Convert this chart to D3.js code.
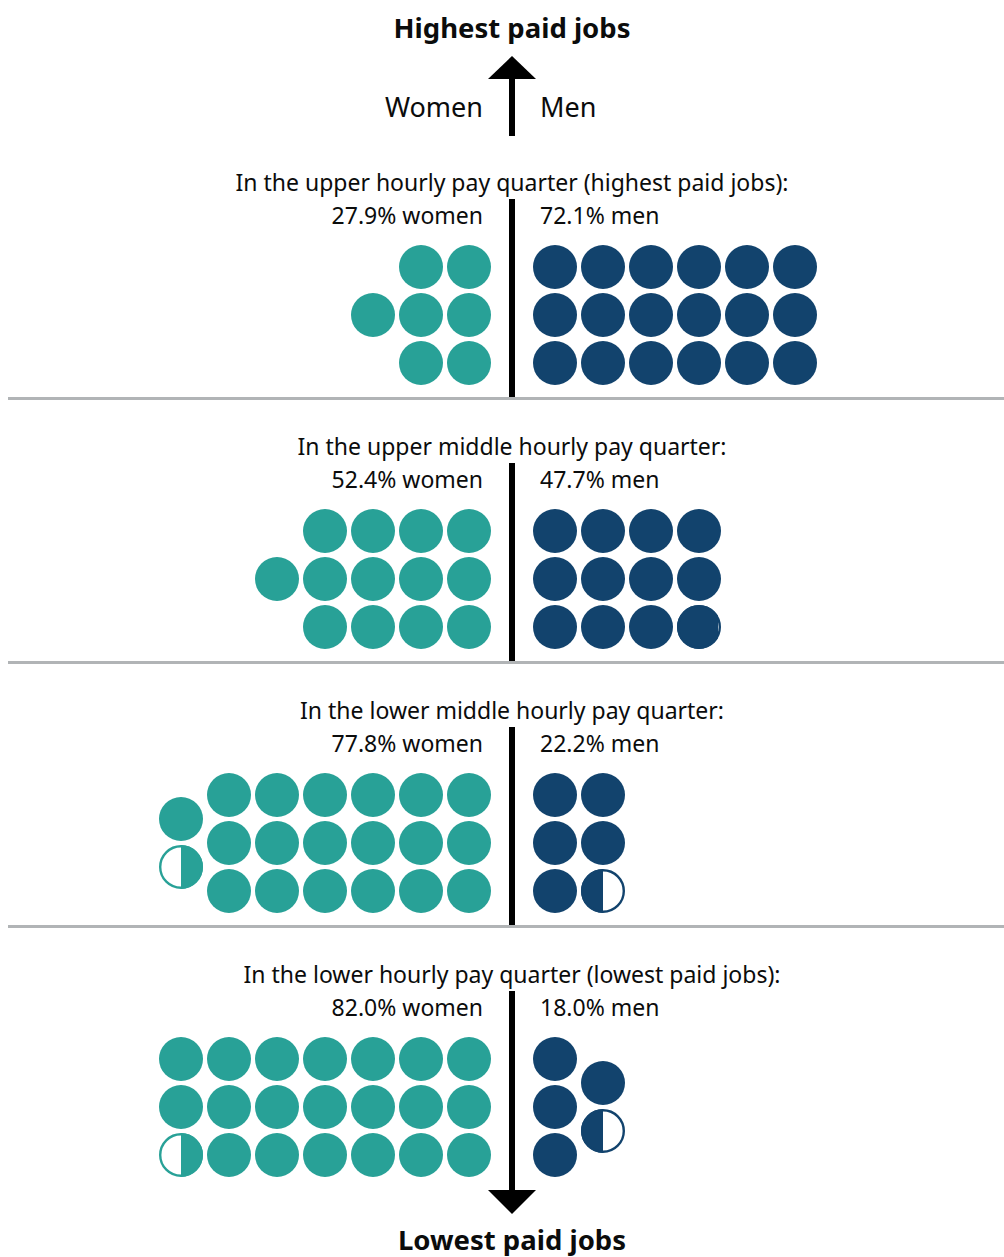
<!DOCTYPE html>
<html>
<head>
<meta charset="utf-8">
<script src="https://cdn.jsdelivr.net/npm/d3@7.9.0/dist/d3.min.js"></script>
<style>
  body { margin: 0; background: #fff; }
  svg { display: block; font-family: "Noto Sans", "Open Sans", sans-serif; }
</style>
</head>
<body>
<svg id="chart" width="1004" height="1257"></svg>
<script>
// one circle = 4% of jobs in the quarter
const quarterTitles = [
  'In the upper hourly pay quarter (highest paid jobs):',
  'In the upper middle hourly pay quarter:',
  'In the lower middle hourly pay quarter:',
  'In the lower hourly pay quarter (lowest paid jobs):'
];
const womenPct = [27.9, 52.4, 77.8, 82.0];
const menPct = [72.1, 47.7, 22.2, 18.0];
// circles as drawn in the picture (partial circles shown as fractions)
const womenCircles = [7, 13, 19.5, 20.5];
const menCircles = [18, 11.93, 5.5, 4.5];

const svg = d3.select('#chart');
const W = 1004, cx = 512;
const teal = '#28a197', navy = '#12436d', ink = '#0b0c0c';
const r = 22, step = 48, sectionH = 264, firstRow = 267;

const colX = d3.scaleLinear().domain([0, 1]).range([43, 43 + step]);
const rowY = d3.scaleLinear().domain([0, 1]).range([0, step]);

const defs = svg.append('defs');

// top / bottom labels and arrows
svg.append('text').attr('x', cx).attr('y', 38).attr('text-anchor', 'middle')
  .attr('font-size', 27.5).attr('font-weight', 700).attr('fill', ink).text('Highest paid jobs');
svg.append('text').attr('x', 483).attr('y', 117).attr('text-anchor', 'end')
  .attr('font-size', 27).attr('fill', ink).text('Women');
svg.append('text').attr('x', 540).attr('y', 117)
  .attr('font-size', 27).attr('fill', ink).text('Men');
svg.append('line').attr('x1', cx).attr('x2', cx).attr('y1', 76).attr('y2', 136)
  .attr('stroke', '#000').attr('stroke-width', 6);
svg.append('path').attr('d', `M${cx},56 L${cx + 24},79 L${cx - 24},79 Z`).attr('fill', '#000');

svg.append('line').attr('x1', cx).attr('x2', cx).attr('y1', 1170).attr('y2', 1195)
  .attr('stroke', '#000').attr('stroke-width', 6);
svg.append('path').attr('d', `M${cx},1214 L${cx + 24},1190 L${cx - 24},1190 Z`).attr('fill', '#000');
svg.append('text').attr('x', cx).attr('y', 1250).attr('text-anchor', 'middle')
  .attr('font-size', 27.5).attr('font-weight', 700).attr('fill', ink).text('Lowest paid jobs');

function drawDots(g, n, side, color, key) {
  const items = Math.ceil(n - 1e-9);
  const cols = Math.ceil(items / 3);
  for (let k = 0; k < items; k++) {
    const c = Math.floor(k / 3);
    const rIdx = k % 3;
    const inCol = c === cols - 1 ? items - 3 * c : 3;
    const offset = (3 - inCol) / 2;
    const x = cx + side * colX(c);
    const y = rowY(rIdx + offset);
    const frac = Math.min(1, n - k);
    if (frac >= 0.999) {
      g.append('circle').attr('cx', x).attr('cy', y).attr('r', r).attr('fill', color);
    } else {
      const id = `clip-${key}-${k}`;
      const w = 2 * r * frac;
      defs.append('clipPath').attr('id', id).append('rect')
        .attr('x', side > 0 ? x - r : x + r - w)
        .attr('y', y - r).attr('width', w).attr('height', 2 * r);
      g.append('circle').attr('cx', x).attr('cy', y).attr('r', r)
        .attr('fill', color).attr('clip-path', `url(#${id})`);
      g.append('circle').attr('cx', x).attr('cy', y).attr('r', r - 1.2)
        .attr('fill', 'none').attr('stroke', color).attr('stroke-width', 2.4);
    }
  }
}

quarterTitles.forEach((title, i) => {
  const top = sectionH * i;
  const g = svg.append('g');
  g.append('text').attr('x', cx).attr('y', top + 191).attr('text-anchor', 'middle')
    .attr('font-size', 23).attr('fill', ink).text(title);
  g.append('text').attr('x', 483).attr('y', top + 224).attr('text-anchor', 'end')
    .attr('font-size', 23).attr('fill', ink).text(`${womenPct[i].toFixed(1)}% women`);
  g.append('text').attr('x', 540).attr('y', top + 224)
    .attr('font-size', 23).attr('fill', ink).text(`${menPct[i].toFixed(1)}% men`);

  const lineEnd = i < 3 ? top + 397 : 1195;
  g.append('line').attr('x1', cx).attr('x2', cx).attr('y1', top + 199).attr('y2', lineEnd)
    .attr('stroke', '#000').attr('stroke-width', 6);

  if (i < 3) {
    g.append('line').attr('x1', 8).attr('x2', W).attr('y1', top + 398.5).attr('y2', top + 398.5)
      .attr('stroke', '#b1b4b6').attr('stroke-width', 3);
  }

  const dots = g.append('g').attr('transform', `translate(0,${top + firstRow})`);
  drawDots(dots, womenCircles[i], -1, teal, `w${i}`);
  drawDots(dots, menCircles[i], 1, navy, `m${i}`);
});
</script>
</body>
</html>
